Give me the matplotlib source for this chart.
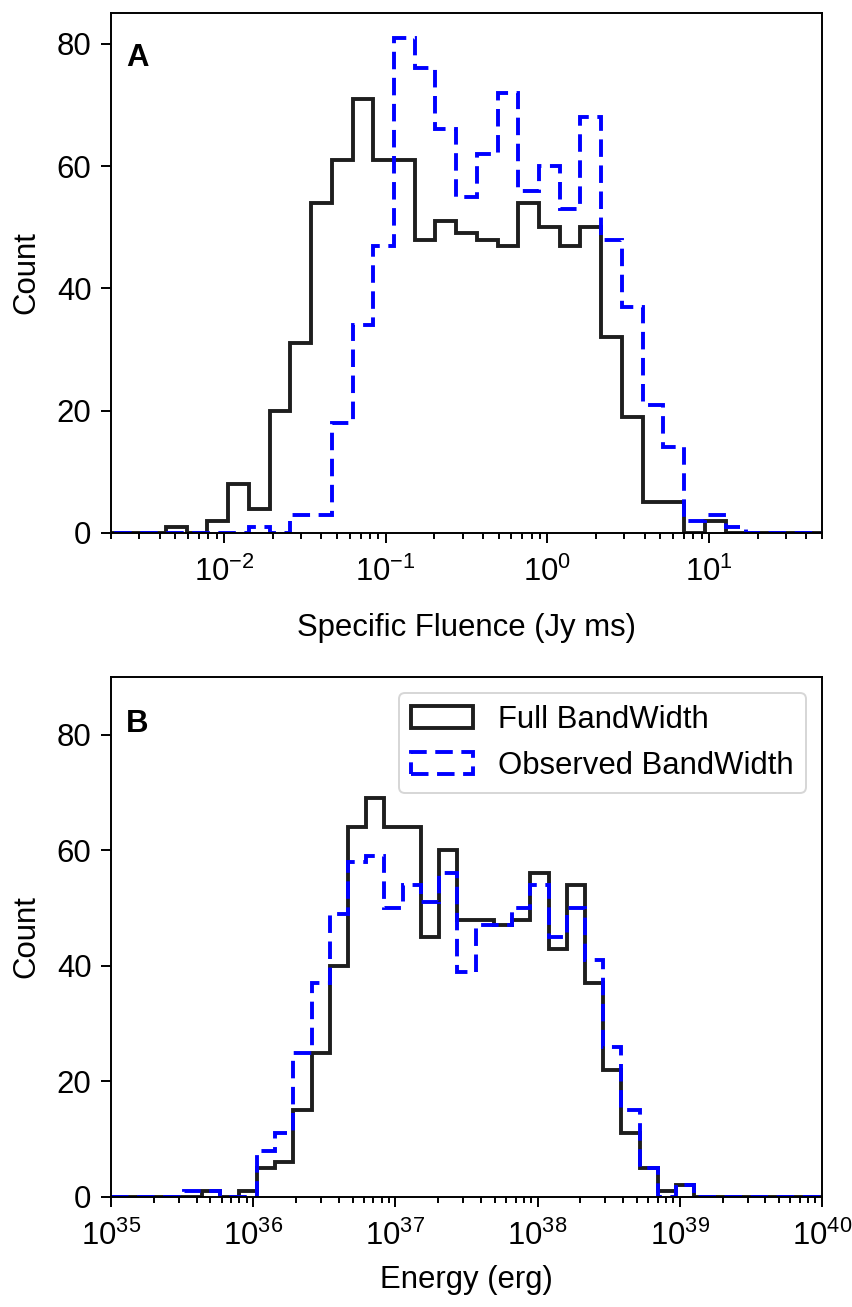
import numpy as np
import matplotlib
matplotlib.use('Agg')
import matplotlib.pyplot as plt

plt.rcParams['font.family'] = ['Liberation Sans', 'DejaVu Sans']
plt.rcParams['mathtext.fontset'] = 'custom'
plt.rcParams['mathtext.rm'] = 'Liberation Sans'
plt.rcParams['axes.linewidth'] = 1.0

# log-spaced bins: 39 bins per panel
fluence_edges = np.logspace(-3, 2, 40)
energy_edges = np.logspace(35, 40, 40)

# panel A counts (specific fluence)
fluence_full = [0, 0, 0, 0, 0, 1, 0, 2, 8, 4,
                20, 31, 54, 61, 71, 61, 61, 48, 51, 49,
                48, 47, 54, 50, 47, 50, 32, 19, 5, 5,
                0, 2, 0, 0, 0, 0, 0, 0, 0]
fluence_obs = [0, 0, 0, 0, 0, 0, 0, 0, 0, 1,
               0, 3, 3, 18, 34, 47, 81, 76, 66, 55,
               62, 72, 56, 60, 53, 68, 48, 37, 21, 14,
               2, 3, 1, 0, 0, 0, 0, 0, 0]

# panel B counts (energy)
energy_full = [0, 0, 0, 0, 0, 1, 0, 1, 5, 6,
               15, 25, 40, 64, 69, 64, 64, 45, 60, 48,
               48, 47, 48, 56, 43, 54, 37, 22, 11, 5,
               1, 2, 0, 0, 0, 0, 0, 0, 0]
energy_obs = [0, 0, 0, 0, 1, 1, 0, 0, 8, 11,
              25, 37, 49, 58, 59, 50, 54, 51, 56, 39,
              47, 47, 50, 54, 45, 50, 41, 26, 15, 5,
              0, 2, 0, 0, 0, 0, 0, 0, 0]

dpi = 140
fig = plt.figure(figsize=(852 / dpi, 1307 / dpi), dpi=dpi)
axA = fig.add_axes([111 / 852, 1 - 533 / 1307, 711 / 852, 520 / 1307])
axB = fig.add_axes([111 / 852, 1 - 1197 / 1307, 711 / 852, 520 / 1307])

black = '#1e1e1e'
dash = (0, (4.5, 2.2))


def draw(ax, edges, full, obs):
    centers = np.sqrt(edges[:-1] * edges[1:])
    ax.hist(centers, bins=edges, weights=full, histtype='step',
            color=black, lw=2, label='Full BandWidth')
    ax.hist(centers, bins=edges, weights=obs, histtype='step',
            color='#0000ff', lw=2, linestyle=dash, label='Observed BandWidth')
    ax.set_xscale('log')
    ax.set_ylabel('Count', fontsize=16, labelpad=8)
    ax.tick_params(which='major', length=5, width=1, labelsize=16)
    ax.tick_params(which='minor', length=3, width=1)
    ax.tick_params(axis='y', pad=5)
    ax.tick_params(axis='x', which='major', pad=7)


draw(axA, fluence_edges, fluence_full, fluence_obs)
axA.set_xlim(2e-3, 50)
axA.set_ylim(0, 85.05)
axA.set_yticks([0, 20, 40, 60, 80])
axA.set_xlabel('Specific Fluence (Jy ms)', fontsize=16, labelpad=13)
axA.text(0.021, 0.942, 'A', transform=axA.transAxes, fontsize=16,
         fontweight='bold', va='top', ha='left')

draw(axB, energy_edges, energy_full, energy_obs)
axB.set_xlim(1e35, 1e40)
axB.set_ylim(0, 90)
axB.set_yticks([0, 20, 40, 60, 80])
axB.set_xlabel('Energy (erg)', fontsize=16, labelpad=7)
axB.text(0.021, 0.938, 'B', transform=axB.transAxes, fontsize=16,
         fontweight='bold', va='top', ha='left')
axB.legend(loc='upper right', fontsize=16)

fig.savefig('out.png', dpi=dpi)
